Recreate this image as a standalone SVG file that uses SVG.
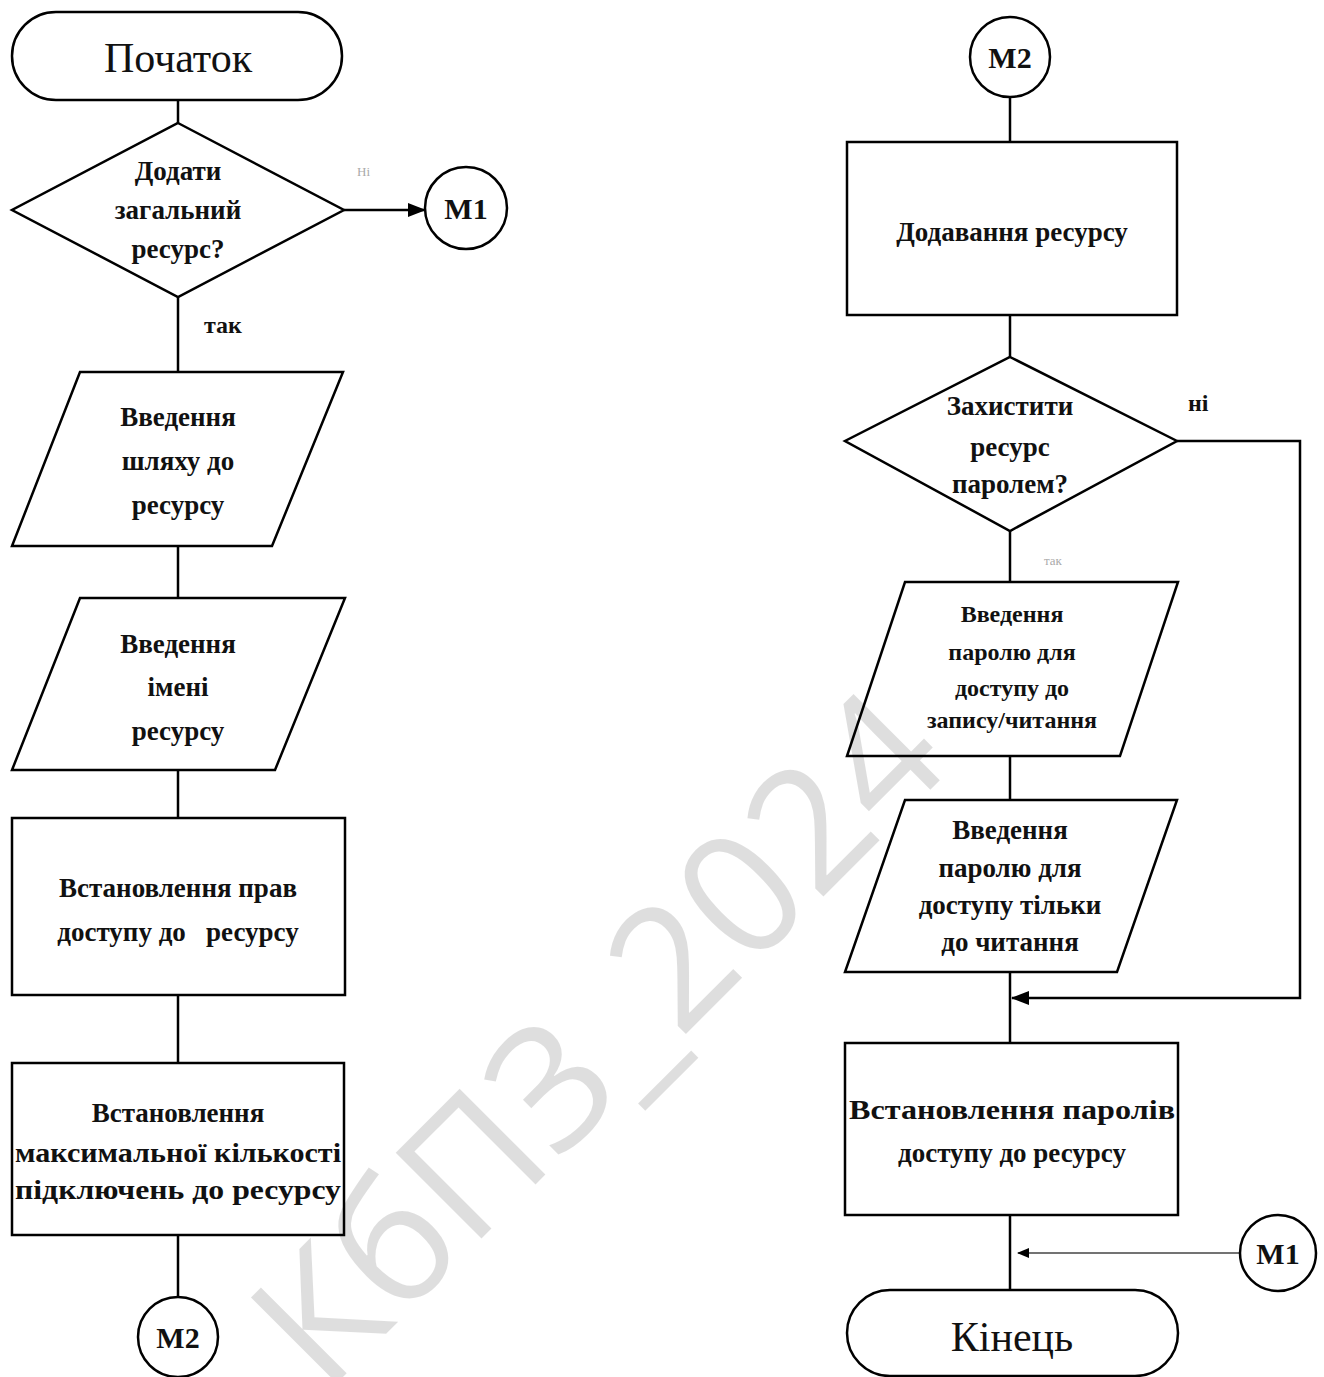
<svg xmlns="http://www.w3.org/2000/svg" width="1324" height="1377" viewBox="0 0 1324 1377">
<style>
.s{fill:#fff;stroke:#000;stroke-width:2.5}
.t{font-family:"Liberation Serif","DejaVu Serif",serif;font-size:27px;font-weight:bold;text-anchor:middle;fill:#111}
.big{font-family:"Liberation Serif","DejaVu Serif",serif;font-size:42px;text-anchor:middle;fill:#111}
.c{font-family:"Liberation Serif","DejaVu Serif",serif;font-size:30px;font-weight:bold;text-anchor:middle;fill:#111}
.l{stroke:#000;stroke-width:2.5;fill:none}
.lb{font-family:"Liberation Serif",serif;font-size:24px;font-weight:bold;fill:#111}
.fl{font-family:"Liberation Serif",serif;font-size:13px;fill:#aaa}
</style>
<defs>
<marker id="ar" markerWidth="12" markerHeight="10" refX="11" refY="5" orient="auto" markerUnits="userSpaceOnUse"><path d="M0,0 L12,5 L0,10 z" fill="#000"/></marker>
<marker id="ar2" markerWidth="18" markerHeight="14" refX="17" refY="7" orient="auto" markerUnits="userSpaceOnUse"><path d="M0,0 L18,7 L0,14 z" fill="#000"/></marker>
</defs>
<g id="connectors">
<line class="l" x1="178" y1="100" x2="178" y2="123"/>
<line class="l" x1="344" y1="210" x2="425" y2="210" marker-end="url(#ar2)"/>
<line class="l" x1="178" y1="297" x2="178" y2="372"/>
<line class="l" x1="178" y1="546" x2="178" y2="598"/>
<line class="l" x1="178" y1="770" x2="178" y2="818"/>
<line class="l" x1="178" y1="995" x2="178" y2="1063"/>
<line class="l" x1="178" y1="1235" x2="178" y2="1297"/>
<line class="l" x1="1010" y1="97" x2="1010" y2="142"/>
<line class="l" x1="1010" y1="315" x2="1010" y2="357"/>
<line class="l" x1="1010" y1="531" x2="1010" y2="582"/>
<line class="l" x1="1010" y1="756" x2="1010" y2="800"/>
<line class="l" x1="1010" y1="972" x2="1010" y2="1043"/>
<polyline class="l" points="1177,441 1300,441 1300,998 1012,998" marker-end="url(#ar2)"/>
<line class="l" x1="1010" y1="1215" x2="1010" y2="1290"/>
<line x1="1240" y1="1253" x2="1018" y2="1253" stroke="#444" stroke-width="1.5" marker-end="url(#ar)"/>
<text class="fl" x="357" y="176">Ні</text>
<text class="lb" x="204" y="333">так</text>
<text class="lb" x="1188" y="411">ні</text>
<text class="fl" x="1044" y="565">так</text>
</g>
<g id="start">
<rect class="s" x="12" y="12" width="330" height="88" rx="44"/>
<text class="big" x="178" y="72">Початок</text>
</g>
<g id="d1">
<polygon class="s" points="178,123 344,210 178,297 12,210"/>
<text class="t" x="178" y="180">Додати</text>
<text class="t" x="178" y="219">загальний</text>
<text class="t" x="178" y="258">ресурс?</text>
</g>
<g id="m1a">
<circle class="s" cx="466" cy="208" r="41"/>
<text class="c" x="466" y="219">M1</text>
</g>
<g id="p1">
<polygon class="s" points="80,372 343,372 272,546 12,546"/>
<text class="t" x="178" y="426">Введення</text>
<text class="t" x="178" y="470">шляху до</text>
<text class="t" x="178" y="514">ресурсу</text>
</g>
<g id="p2">
<polygon class="s" points="80,598 345,598 275,770 12,770"/>
<text class="t" x="178" y="653">Введення</text>
<text class="t" x="178" y="696">імені</text>
<text class="t" x="178" y="740">ресурсу</text>
</g>
<g id="r1">
<rect class="s" x="12" y="818" width="333" height="177"/>
<text class="t" x="178" y="897">Встановлення прав</text>
<text class="t" x="178" y="941" xml:space="preserve">доступу до   ресурсу</text>
</g>
<g id="r2">
<rect class="s" x="12" y="1063" width="332" height="172"/>
<text class="t" x="178" y="1122">Встановлення</text>
<text class="t" x="178" y="1162" textLength="326" lengthAdjust="spacingAndGlyphs">максимальної кількості</text>
<text class="t" x="178" y="1199" textLength="326" lengthAdjust="spacingAndGlyphs">підключень до ресурсу</text>
</g>
<g id="m2a">
<circle class="s" cx="178" cy="1337" r="40"/>
<text class="c" x="178" y="1348">M2</text>
</g>
<g id="m2b">
<circle class="s" cx="1010" cy="57" r="40"/>
<text class="c" x="1010" y="68">M2</text>
</g>
<g id="r3">
<rect class="s" x="847" y="142" width="330" height="173"/>
<text class="t" x="1012" y="241">Додавання ресурсу</text>
</g>
<g id="d2">
<polygon class="s" points="1010,357 1177,441 1010,531 845,441"/>
<text class="t" x="1010" y="415">Захистити</text>
<text class="t" x="1010" y="456">ресурс</text>
<text class="t" x="1010" y="493">паролем?</text>
</g>
<g id="p3">
<polygon class="s" points="905,582 1178,582 1120,756 847,756"/>
<text class="t" x="1012" y="622" style="font-size:24px">Введення</text>
<text class="t" x="1012" y="660" style="font-size:24px">паролю для</text>
<text class="t" x="1012" y="696" style="font-size:24px">доступу до</text>
<text class="t" x="1012" y="728" style="font-size:24px">запису/читання</text>
</g>
<g id="p4">
<polygon class="s" points="905,800 1177,800 1117,972 845,972"/>
<text class="t" x="1010" y="839">Введення</text>
<text class="t" x="1010" y="877">паролю для</text>
<text class="t" x="1010" y="914">доступу тільки</text>
<text class="t" x="1010" y="951">до читання</text>
</g>
<g id="r4">
<rect class="s" x="845" y="1043" width="333" height="172"/>
<text class="t" x="1012" y="1119" textLength="326" lengthAdjust="spacingAndGlyphs">Встановлення паролів</text>
<text class="t" x="1012" y="1162">доступу до ресурсу</text>
</g>
<g id="m1b">
<circle class="s" cx="1278" cy="1253" r="38"/>
<text class="c" x="1278" y="1264">M1</text>
</g>
<g id="end">
<rect class="s" x="847" y="1290" width="331" height="86" rx="43"/>
<text class="big" x="1012" y="1351">Кінець</text>
</g>
<text x="640" y="1080" transform="rotate(-45 640 1080)" style="font-family:'Open Sans','Liberation Sans',sans-serif;font-size:170px;font-weight:400;fill:#000;fill-opacity:0.13;text-anchor:middle">КбПЗ_2024</text>
</svg>
